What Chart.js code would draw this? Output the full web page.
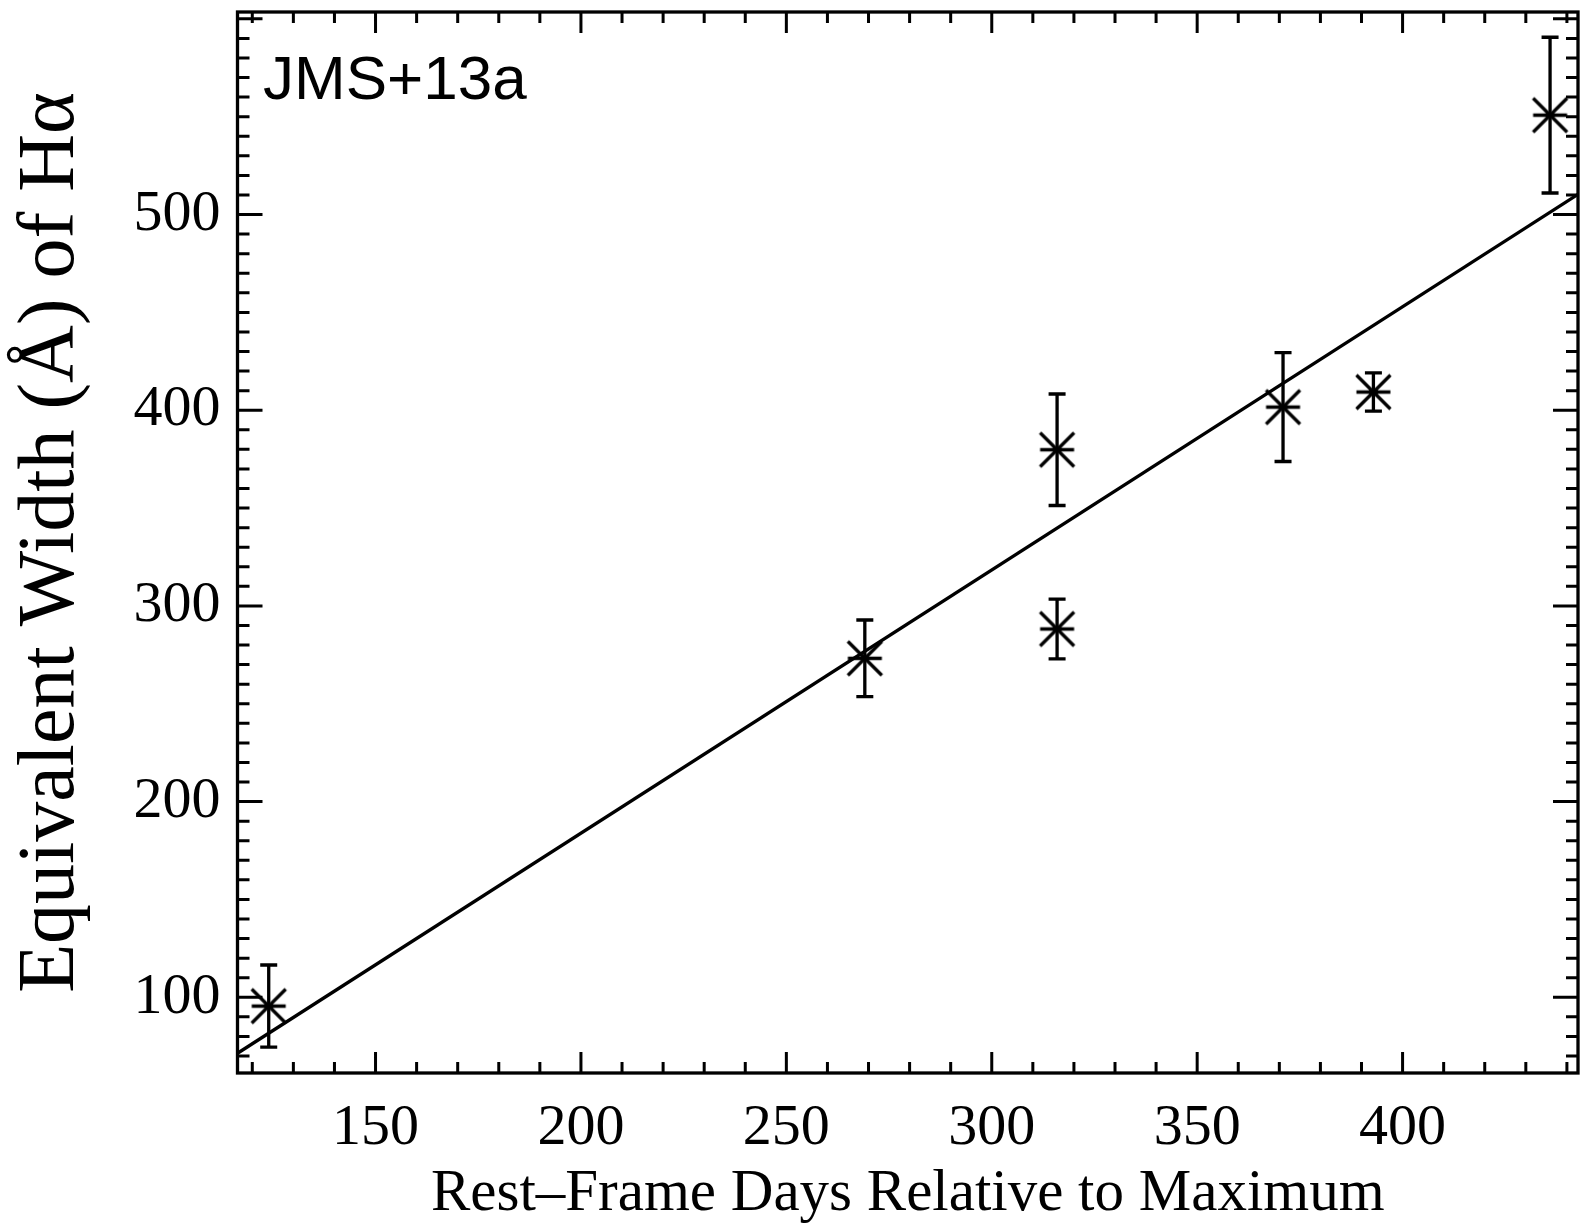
<!DOCTYPE html>
<html>
<head>
<meta charset="utf-8">
<title>Equivalent Width of H-alpha</title>
<script src="https://cdn.jsdelivr.net/npm/chart.js@4.4.1/dist/chart.umd.min.js"></script>
<style>
  html, body { margin: 0; padding: 0; background: #fff; }
  canvas { display: block; }
</style>
</head>
<body>
<canvas id="ewChart" width="1583" height="1225"></canvas>
<script>
// Equivalent width of H-alpha (Å) against rest-frame days after maximum
const days = [124.0, 269.1, 315.9, 315.9, 370.9, 392.9, 435.9];
const ewValues = [95.5, 273.2, 288.2, 379.8, 401.6, 409.3, 550.8];
const ewErrors = [21.0, 19.6, 15.3, 28.5, 27.8, 9.8, 39.8];

// Linear fit, given by its ends at the axis limits
const fitDays = [116.4, 442.7];
const fitValues = [71.4, 510.3];

const xTickLabels = [150, 200, 250, 300, 350, 400];
const yTickLabels = [100, 200, 300, 400, 500];

const X_MIN = 116.4, X_MAX = 442.7;
const Y_MIN = 61.3, Y_MAX = 603.5;

const serif = "'Liberation Serif', 'Times New Roman', serif";
const LINE_W = 3.3;

// IDL-style asterisk: one horizontal bar and two diagonals
function makeAsterisk(half, lw) {
    const c = document.createElement('canvas');
    const size = Math.ceil(half * 2 + lw * 2);
    c.width = size;
    c.height = size;
    const g = c.getContext('2d');
    const m = size / 2;
    g.strokeStyle = '#000';
    g.lineWidth = lw;
    g.beginPath();
    g.moveTo(m - half, m); g.lineTo(m + half, m);
    g.moveTo(m - half, m - half); g.lineTo(m + half, m + half);
    g.moveTo(m - half, m + half); g.lineTo(m + half, m - half);
    g.stroke();
    return c;
}

// scales keep their fixed sizes, with no extra room for edge labels
function fixBox(w, h) {
    return s => {
        if (w !== null) s.width = w;
        if (h !== null) s.height = h;
        s.paddingTop = 0;
        s.paddingBottom = 0;
        s.paddingLeft = 0;
        s.paddingRight = 0;
    };
}

// Error bars, frame, inward ticks and the panel label
const decorations = {
    id: 'decorations',
    afterDatasetsDraw(chart) {
        const { ctx, chartArea: a, scales: { x, y } } = chart;
        ctx.save();
        ctx.strokeStyle = '#000';
        ctx.lineWidth = LINE_W;

        // error bars
        const cap = 8.5;
        ctx.beginPath();
        days.forEach((d, i) => {
            const px = x.getPixelForValue(d);
            const top = y.getPixelForValue(ewValues[i] + ewErrors[i]);
            const bot = y.getPixelForValue(ewValues[i] - ewErrors[i]);
            ctx.moveTo(px, top); ctx.lineTo(px, bot);
            ctx.moveTo(px - cap, top); ctx.lineTo(px + cap, top);
            ctx.moveTo(px - cap, bot); ctx.lineTo(px + cap, bot);
        });
        ctx.stroke();

        // ticks on all four sides, pointing inward
        ctx.lineWidth = 3;
        ctx.beginPath();
        for (let v = 120; v <= 440; v += 10) {
            const px = x.getPixelForValue(v);
            const len = v % 50 === 0 ? 21 : 11;
            ctx.moveTo(px, a.bottom); ctx.lineTo(px, a.bottom - len);
            ctx.moveTo(px, a.top); ctx.lineTo(px, a.top + len);
        }
        for (let v = 70; v <= 600; v += 10) {
            const py = y.getPixelForValue(v);
            const len = v % 100 === 0 ? 25 : 12;
            ctx.moveTo(a.left, py); ctx.lineTo(a.left + len, py);
            ctx.moveTo(a.right, py); ctx.lineTo(a.right - len, py);
        }
        ctx.stroke();

        // frame
        ctx.lineWidth = 3.3;
        ctx.strokeRect(a.left, a.top, a.right - a.left, a.bottom - a.top);

        // panel label
        ctx.fillStyle = '#000';
        ctx.font = "62px 'Liberation Sans', Arial, sans-serif";
        ctx.textAlign = 'left';
        ctx.textBaseline = 'alphabetic';
        ctx.fillText('JMS+13a', a.left + 25.5, a.top + 87);
        ctx.restore();
    }
};

const ctx = document.getElementById('ewChart').getContext('2d');

new Chart(ctx, {
    type: 'scatter',
    data: {
        datasets: [
            {
                type: 'line',
                label: 'Fit',
                data: fitDays.map((d, i) => ({ x: d, y: fitValues[i] })),
                borderColor: '#000',
                borderWidth: LINE_W,
                pointRadius: 0,
                fill: false
            },
            {
                label: 'EW(Hα)',
                data: days.map((d, i) => ({ x: d, y: ewValues[i] })),
                pointStyle: makeAsterisk(17, LINE_W),
                borderColor: '#000',
                backgroundColor: '#000'
            }
        ]
    },
    options: {
        responsive: false,
        animation: false,
        devicePixelRatio: 1,
        layout: { padding: { left: 0, top: 12, right: 3, bottom: 0 } },
        plugins: {
            legend: { display: false },
            tooltip: { enabled: false }
        },
        scales: {
            x: {
                type: 'linear',
                position: 'bottom',
                min: X_MIN,
                max: X_MAX,
                grid: { display: false, drawTicks: false },
                border: { display: false },
                afterBuildTicks: s => { s.ticks = xTickLabels.map(v => ({ value: v })); },
                afterFit: fixBox(null, 152),
                ticks: {
                    color: '#000',
                    font: { family: serif, size: 58 },
                    padding: 21,
                    maxRotation: 0
                },
                title: {
                    display: true,
                    text: 'Rest\u2013Frame Days Relative to Maximum',
                    color: '#000',
                    font: { family: serif, size: 59 },
                    padding: { top: 0, bottom: -5 }
                }
            },
            y: {
                type: 'linear',
                min: Y_MIN,
                max: Y_MAX,
                grid: { display: false, drawTicks: false },
                border: { display: false },
                afterBuildTicks: s => { s.ticks = yTickLabels.map(v => ({ value: v })); },
                afterFit: fixBox(237.5, null),
                ticks: {
                    color: '#000',
                    font: { family: serif, size: 58 },
                    padding: 17
                },
                title: {
                    display: true,
                    text: 'Equivalent Width (Å) of Hα',
                    color: '#000',
                    font: { family: serif, size: 80 },
                    padding: { top: 4, bottom: 0 }
                }
            }
        }
    },
    plugins: [decorations]
});
</script>
</body>
</html>
